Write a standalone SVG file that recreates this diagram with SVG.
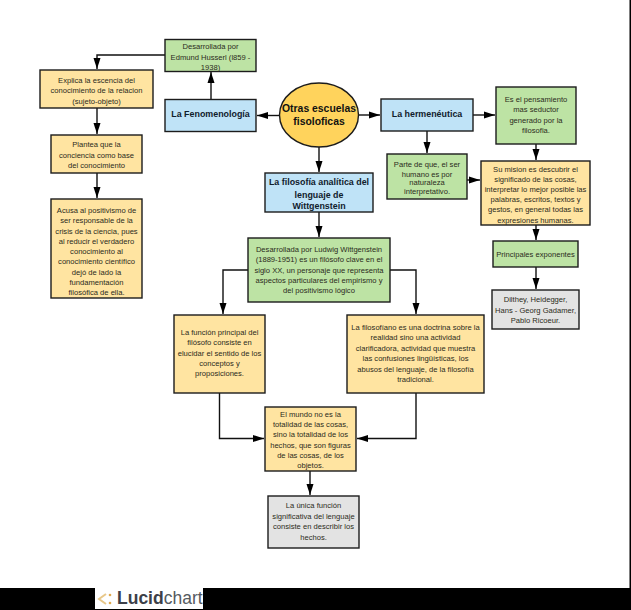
<svg xmlns="http://www.w3.org/2000/svg" width="631" height="610" viewBox="0 0 631 610">
<style>
text{font-family:"Liberation Sans",Arial,sans-serif;font-size:7.6px;fill:#2b2b20;text-anchor:middle}
text.b{font-weight:bold;font-size:8.9px;fill:#10202c}
text.c{font-weight:bold;font-size:10.4px;fill:#111}
.n rect,.n ellipse{stroke:#1c1c1c;stroke-width:1.4}
.y rect{fill:#ffe4a1}.g rect{fill:#bde3a4}.bl rect{fill:#bfe3f7}.gr rect{fill:#e3e3e3}
#connectors path{fill:none;stroke:#111;stroke-width:1.4;marker-end:url(#a)}
</style>
<defs><marker id="a" markerUnits="userSpaceOnUse" markerWidth="11" markerHeight="8" refX="11" refY="4" orient="auto"><path d="M0 .5L11 4L0 7.500z" fill="#000"/></marker></defs>
<rect width="631" height="610" fill="#fff"/>
<rect x="0" y="588" width="631" height="22" fill="#000"/>
<rect x="629.500" y="0" width="1.500" height="610" fill="#000"/>
<g id="connectors">
<path d="M165 55H97V69"/><path d="M211 99V72"/><path d="M279 115.500H257"/>
<path d="M97 108V134"/><path d="M97 173V198"/>
<path d="M319 147V172"/><path d="M319 212V237"/>
<path d="M248 270H223V314"/><path d="M390 270H416V314"/>
<path d="M219.500 393V438.500H264"/><path d="M416 393V438.500H357"/><path d="M310 471V495"/>
<path d="M358 115H380"/><path d="M473 115H495"/><path d="M427 131V153"/><path d="M467 180H480"/>
<path d="M536 144V160"/><path d="M536 225V240"/><path d="M536 267V289"/>
</g>
<g id="husserl" class="n g"><rect x="165" y="39.500" width="91" height="32"/><text x="210.500" y="49">Desarrollada por</text><text x="210.500" y="59.500">Edmund Husserl (l859 -</text><text x="210.500" y="70">1938)</text></g>
<g id="fenomenologia" class="n bl"><rect x="165" y="99.500" width="91" height="32"/><text class="b" x="210.500" y="117">La Fenomenología</text></g>
<g id="explica" class="n y"><rect x="40" y="70" width="113" height="38"/><text x="96.500" y="83">Explica la escencia del</text><text x="96.500" y="93">conocimiento de  la relacion</text><text x="96.500" y="103.500">(sujeto-objeto)</text></g>
<g id="plantea" class="n y"><rect x="51" y="135" width="91" height="38"/><text x="96.500" y="147">Plantea que la</text><text x="96.500" y="157.500">conciencia como base</text><text x="96.500" y="168">del conocimiento</text></g>
<g id="acusa" class="n y"><rect x="51" y="199" width="91" height="99"/><text x="96.500" y="212.500">Acusa al positivismo de</text><text x="96.500" y="223">ser responsable de la</text><text x="96.500" y="233.500">crisis de la ciencia, pues</text><text x="96.500" y="243.500">al reducir el verdadero</text><text x="96.500" y="254">conocimiento al</text><text x="96.500" y="264">conocimiento científico</text><text x="96.500" y="274.500">dejó de lado la</text><text x="96.500" y="285">fundamentación</text><text x="96.500" y="295">filosófica de ella.</text></g>
<g id="centro" class="n"><ellipse cx="319" cy="115" rx="39.500" ry="32" fill="#ffd35c"/><text class="c" x="319" y="112">Otras escuelas</text><text class="c" x="319" y="125">fisoloficas</text></g>
<g id="analitica" class="n bl"><rect x="265" y="173" width="108" height="39"/><text class="b" x="319" y="185">La filosofía analítica del</text><text class="b" x="319" y="197.500">lenguaje de</text><text class="b" x="319" y="209">Wittgenstein</text></g>
<g id="ludwig" class="n g"><rect x="248" y="238" width="142" height="64"/><text x="319" y="252">Desarrollada por Ludwig Wittgenstein</text><text x="319" y="262">(1889-1951) es un filósofo clave en el</text><text x="319" y="272.500">siglo XX, un personaje que representa</text><text x="319" y="282.500">aspectos particulares del empirismo y</text><text x="319" y="293">del positivismo lógico</text></g>
<g id="hermeneutica" class="n bl"><rect x="381" y="99" width="92" height="32"/><text class="b" x="427" y="117">La hermenéutica</text></g>
<g id="pensamiento" class="n g"><rect x="496" y="87" width="80" height="57"/><text x="536" y="102">Es el pensamiento</text><text x="536" y="112">mas seductor</text><text x="536" y="122.500">generado por la</text><text x="536" y="133">filosofia.</text></g>
<g id="parte" class="n g"><rect x="387" y="154" width="80" height="45"/><text x="427" y="167">Parte de que, el ser</text><text x="427" y="176.500">humano es por</text><text x="427" y="185">naturaleza</text><text x="427" y="193.500">interpretativo.</text></g>
<g id="mision" class="n y"><rect x="481" y="161" width="109" height="64"/><text x="535.500" y="171.500">Su mision es descubrir el</text><text x="535.500" y="181.500">significado de las cosas,</text><text x="535.500" y="192">interpretar lo mejor posible las</text><text x="535.500" y="202">palabras, escritos, textos y</text><text x="535.500" y="212">gestos, en general todas las</text><text x="535.500" y="222.500">expresiones humanas.</text></g>
<g id="principales" class="n g"><rect x="493" y="241" width="85" height="26"/><text x="535.500" y="257">Principales exponentes</text></g>
<g id="dilthey" class="n gr"><rect x="492" y="290" width="87" height="39"/><text x="535.500" y="302">Dilthey, Heidegger,</text><text x="535.500" y="312.500">Hans - Georg Gadamer,</text><text x="535.500" y="323">Pablo Ricoeur.</text></g>
<g id="funcion" class="n y"><rect x="174" y="315" width="91" height="78"/><text x="219.500" y="334.500">La función principal del</text><text x="219.500" y="345">filósofo consiste en</text><text x="219.500" y="355.500">elucidar el sentido de los</text><text x="219.500" y="365.500">conceptos y</text><text x="219.500" y="376">proposiciones.</text></g>
<g id="filosofiano" class="n y"><rect x="347" y="315" width="137" height="78"/><text x="415.500" y="330">La filosofíano es una doctrina sobre la</text><text x="415.500" y="340">realidad sino una actividad</text><text x="415.500" y="351">clarificadora, actividad que muestra</text><text x="415.500" y="361">las confusiones lingüísticas, los</text><text x="415.500" y="371.500">abusos del lenguaje, de la filosofía</text><text x="415.500" y="382">tradicional.</text></g>
<g id="mundo" class="n y"><rect x="265" y="407" width="91" height="64"/><text x="310.500" y="416.500">El mundo no es la</text><text x="310.500" y="427">totalidad de las cosas,</text><text x="310.500" y="437">sino la totalidad de los</text><text x="310.500" y="447.500">hechos, que son figuras</text><text x="310.500" y="458">de las cosas, de los</text><text x="310.500" y="468">objetos.</text></g>
<g id="unica" class="n gr"><rect x="268" y="496" width="91" height="52"/><text x="313.500" y="508">La única función</text><text x="313.500" y="519">significativa del lenguaje</text><text x="313.500" y="529">consiste en describir los</text><text x="313.500" y="539.500">hechos.</text></g>
<g id="logo"><rect x="95" y="588" width="108" height="21" fill="#fff"/><path d="M106 594L99 599L106 604" fill="none" stroke="#e8c88a" stroke-width="2"/><circle cx="110" cy="595" r="1.300" fill="#e0a94f"/><circle cx="110" cy="603" r="1.300" fill="#e0a94f"/><text x="117" y="604" style="text-anchor:start;font-size:17.500px;font-weight:bold;fill:#3c4048">Lucid<tspan style="font-weight:normal;fill:#555a60">chart</tspan></text></g>
</svg>
